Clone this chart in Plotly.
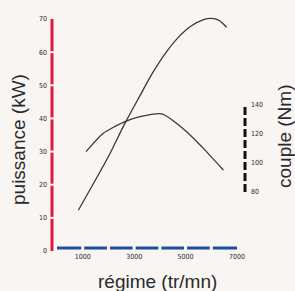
import plotly.graph_objects as go

# ---- data ----
rpm_power = [830, 1500, 2000, 2640, 3200, 3700, 4200, 4700, 5200, 5700, 6000, 6300, 6600]
power_kw = [12.3, 21.5, 28.5, 38.5, 46.5, 53.5, 59.5, 64.3, 67.8, 69.8, 70.2, 69.6, 67.5]

rpm_torque = [1130, 1800, 2640, 3230, 4070, 5040, 5690, 6470]
torque_nm = [107.8, 120.5, 128.5, 131.9, 133.8, 121.6, 110.1, 95.2]

kw_ticks = [0, 10, 20, 30, 40, 50, 60, 70]
rpm_ticks = [1000, 3000, 5000, 7000]
rpm_grid = [0, 1000, 2000, 3000, 4000, 5000, 6000, 7000]
nm_ticks = [80, 100, 120, 140]

# ---- layout constants ----
X_RANGE = [-350, 7894]
KW_RANGE = [0, 72.72]
NM_RANGE = [39.3, 205.5]
RED_AXIS_RPM = -194
TORQUE_AXIS_RPM = 7311
BLUE_AXIS_KW = 0.9

BG = "#f8f5f2"
RED = "#e3173f"
BLUE = "#1d4f9e"
CURVE = "#3a3a3a"
TEXT = "#2a2a2a"

W, H = 295, 291
L, R, T, B = 48, 35, 10, 40

fig = go.Figure()

# red power axis, broken at each tick
rx, ry = [], []
for a, b in zip(kw_ticks[:-1], kw_ticks[1:]):
    rx += [RED_AXIS_RPM, RED_AXIS_RPM, None]
    ry += [a + (0.3 if a > kw_ticks[0] else 0), b - 0.3 if b < kw_ticks[-1] else b, None]
fig.add_trace(go.Scatter(x=rx, y=ry, mode="lines",
                         line=dict(color=RED, width=3), hoverinfo="skip"))

# blue rpm axis, broken at each 1000 rpm
bx, by = [], []
for a, b in zip(rpm_grid[:-1], rpm_grid[1:]):
    bx += [a + (60 if a > rpm_grid[0] else 0), b - (60 if b < rpm_grid[-1] else 0), None]
    by += [BLUE_AXIS_KW, BLUE_AXIS_KW, None]
fig.add_trace(go.Scatter(x=bx, y=by, mode="lines",
                         line=dict(color=BLUE, width=3), hoverinfo="skip"))

# black dashed torque axis
fig.add_trace(go.Scatter(x=[TORQUE_AXIS_RPM, TORQUE_AXIS_RPM],
                         y=[nm_ticks[0], nm_ticks[-1]], yaxis="y2", mode="lines",
                         line=dict(color="#111111", width=3, dash="8px,3px"),
                         hoverinfo="skip"))

# power curve
fig.add_trace(go.Scatter(x=rpm_power, y=power_kw, mode="lines",
                         line=dict(color=CURVE, width=1.3, shape="spline", smoothing=0.8)))
# torque curve
fig.add_trace(go.Scatter(x=rpm_torque, y=torque_nm, yaxis="y2", mode="lines",
                         line=dict(color=CURVE, width=1.3, shape="spline", smoothing=0.6)))

tickfont = dict(size=7, color=TEXT, family="Liberation Sans Narrow, DejaVu Sans Condensed, sans-serif")
titlefont = dict(size=19, color=TEXT, family="Liberation Sans, Arial, sans-serif")

pw, ph = W - L - R, H - T - B
def px(xp): return (xp - L) / pw
def py(yp): return (H - B - yp) / ph

fig.update_layout(
    width=W, height=H,
    margin=dict(l=L, r=R, t=T, b=B, autoexpand=False),
    paper_bgcolor=BG, plot_bgcolor=BG,
    showlegend=False,
    xaxis=dict(range=X_RANGE, tickvals=rpm_ticks, showgrid=False, zeroline=False,
               showline=False, ticks="", tickfont=tickfont, automargin=False),
    yaxis=dict(range=KW_RANGE, tickvals=kw_ticks, showgrid=False, zeroline=False,
               showline=False, ticks="", tickfont=tickfont, automargin=False),
    yaxis2=dict(range=NM_RANGE, tickvals=nm_ticks, overlaying="y", side="right",
                anchor="free", position=px(250), showgrid=False, zeroline=False,
                showline=False, ticks="", tickfont=tickfont, automargin=False),
    annotations=[
        dict(text="régime (tr/mn)", x=px(157), y=py(281), xref="paper", yref="paper",
             xanchor="center", yanchor="middle", showarrow=False, font=titlefont),
        dict(text="puissance (kW)", x=px(18), y=py(140), xref="paper", yref="paper",
             xanchor="center", yanchor="middle",
             textangle=-90, showarrow=False, font=titlefont),
        dict(text="couple (Nm)", x=px(284), y=py(137), xref="paper", yref="paper",
             xanchor="center", yanchor="middle",
             textangle=-90, showarrow=False, font=titlefont),
    ],
)

post = ("document.body.style.margin='0';document.body.style.padding='0';"
        "document.body.style.background='%s';document.documentElement.style.background='%s';" % (BG, BG))
fig.write_html("out.html", post_script=post, config={"displayModeBar": False})
